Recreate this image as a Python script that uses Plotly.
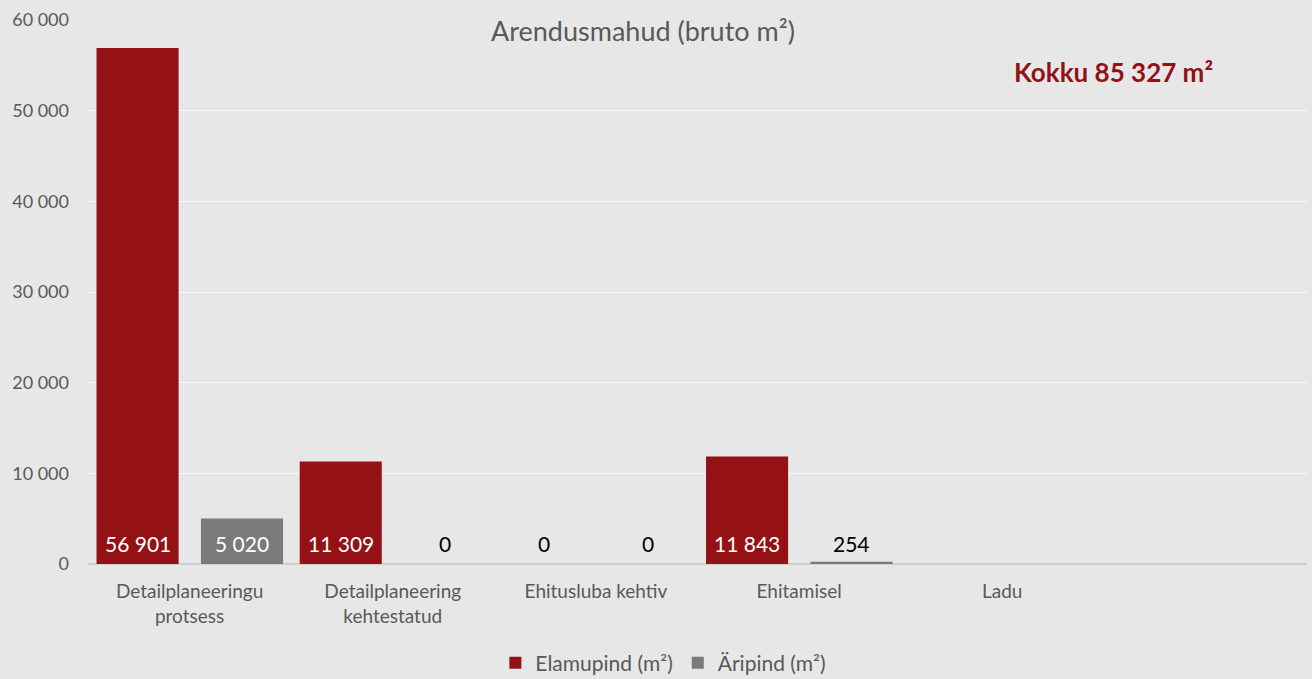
import plotly.graph_objects as go

categories = ["Detailplaneeringu<br>protsess", "Detailplaneering<br>kehtestatud",
              "Ehitusluba kehtiv", "Ehitamisel", "Ladu", " "]
elamupind = [56901, 11309, 0, 11843, None, None]
aripind = [5020, 0, 0, 254, None, None]
y_ticks = [0, 10000, 20000, 30000, 40000, 50000, 60000]

RED = "#941116"
GRAY = "#7A7A7A"
TXT = "#595959"
FONT = "Lato, Open Sans, sans-serif"

BAR_W = 0.404
RED_OFF = -0.458
GRAY_OFF = 0.056

total = sum(v for v in elamupind + aripind if v is not None)
total_txt = f"{total:,}".replace(",", " ")

def fmt(v):
    return f"{v:,}".replace(",", " ")

fig = go.Figure()
fig.add_trace(go.Bar(
    name="Elamupind (m²)", x=categories, y=elamupind,
    marker=dict(color=RED, line=dict(width=0)),
    width=BAR_W, offset=RED_OFF, hoverinfo="skip",
))
fig.add_trace(go.Bar(
    name="Äripind (m²)", x=categories, y=aripind,
    marker=dict(color=GRAY, line=dict(width=0)),
    width=BAR_W, offset=GRAY_OFF, hoverinfo="skip",
))

annotations = [
    dict(text="Arendusmahud (bruto m²)", x=0.455, y=0.98, xref="paper", yref="paper",
         showarrow=False, font=dict(size=27, color=TXT, family=FONT),
         xanchor="center", yanchor="middle"),
    dict(text=f"<b>Kokku {total_txt} m²</b>", x=0.841, y=0.904, xref="paper", yref="paper",
         showarrow=False, font=dict(size=26, color=RED, family=FONT),
         xanchor="center", yanchor="middle"),
]
# data labels at the base of each bar
for series, off in ((elamupind, RED_OFF), (aripind, GRAY_OFF)):
    for i, v in enumerate(series):
        if v is None:
            continue
        inside = v > 2000
        annotations.append(dict(
            text=fmt(v), x=i + off + BAR_W / 2, y=0, xref="x", yref="y",
            showarrow=False, xanchor="center", yanchor="middle", yshift=21,
            font=dict(size=21, family=FONT, color="white" if inside else "black"),
        ))

fig.update_layout(
    width=1312, height=679,
    paper_bgcolor="#E7E7E7", plot_bgcolor="#E7E7E7",
    margin=dict(l=88, r=5, t=20, b=115, autoexpand=False),
    barmode="group",
    font=dict(family=FONT, color=TXT, size=18),
    showlegend=True,
    legend=dict(orientation="h", x=0.472, xanchor="center", y=-0.182, yanchor="middle",
                font=dict(size=21, color=TXT), itemwidth=30, traceorder="normal",
                bgcolor="rgba(0,0,0,0)"),
    annotations=annotations,
    separators=", ",
)
fig.update_xaxes(
    type="category", categoryorder="array", categoryarray=categories,
    range=[-0.5, 5.5], showgrid=False, showline=False, zeroline=False,
    tickfont=dict(size=19, color=TXT), ticks="", ticklabelstandoff=14,
    automargin=False,
)
fig.update_yaxes(
    range=[0, 60000], tickvals=y_ticks, tickformat=",.0f",
    showgrid=True, gridcolor="#F7F7F7", gridwidth=1,
    zeroline=True, zerolinecolor="#CFCFCF", zerolinewidth=1.5,
    showline=False, ticks="", tickfont=dict(size=18, color=TXT),
    ticklabelstandoff=18, automargin=False,
)

fig.write_html("out.html", config={"displayModeBar": False},
               post_script="document.body.style.margin='0';document.body.style.overflow='hidden';")
